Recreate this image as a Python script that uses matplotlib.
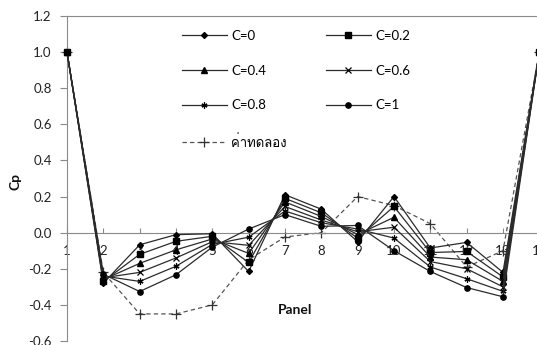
import matplotlib
matplotlib.use("Agg")
import matplotlib.pyplot as plt
from matplotlib import font_manager as fm, ft2font

# ---------------- data ----------------
panels = list(range(1, 15))
c0  = [1.0, -0.28, -0.067, -0.011, -0.006, -0.215, 0.21, 0.13, -0.05, 0.20, -0.085, -0.054, -0.22, 1.0]
c02 = [1.0, -0.27, -0.12, -0.048, -0.02, -0.165, 0.19, 0.11, -0.03, 0.145, -0.11, -0.104, -0.245, 1.0]
c04 = [1.0, -0.26, -0.17, -0.095, -0.035, -0.115, 0.17, 0.09, -0.01, 0.085, -0.135, -0.15, -0.27, 1.0]
c06 = [1.0, -0.25, -0.22, -0.14, -0.05, -0.07, 0.145, 0.07, 0.005, 0.03, -0.16, -0.20, -0.30, 1.0]
c08 = [1.0, -0.24, -0.27, -0.186, -0.065, -0.025, 0.12, 0.055, 0.02, -0.03, -0.19, -0.255, -0.325, 1.0]
c1  = [1.0, -0.23, -0.326, -0.233, -0.08, 0.02, 0.10, 0.035, 0.04, -0.10, -0.215, -0.304, -0.355, 1.0]
exp = [1.0, -0.22, -0.45, -0.45, -0.40, -0.15, -0.024, 0.0, 0.20, 0.15, 0.05, -0.19, -0.10, 1.0]
series_labels = ["C=0", "C=0.2", "C=0.4", "C=0.6", "C=0.8", "C=1"]
exp_label = "ค่าทดลอง"
yticks = [-0.6, -0.4, -0.2, 0.0, 0.2, 0.4, 0.6, 0.8, 1.0, 1.2]

# ---------------- fonts ----------------
thai_font = None
for f in fm.fontManager.ttflist:
    try:
        cm = ft2font.FT2Font(f.fname).get_charmap()
        if 0x0E04 in cm and 0x0E48 in cm and 0x0E17 in cm:
            thai_font = f.name
            break
    except Exception:
        pass
fams = ["Lato"]
if thai_font:
    fams.append(thai_font)
fams.append("DejaVu Sans")
plt.rcParams["font.family"] = fams

W, H = 537, 345
fig = plt.figure(figsize=(W / 100, H / 100), dpi=100)
left = 67 / W
right = 539.3 / W
bottom = (H - 341) / H
top = (H - 16) / H
ax = fig.add_axes([left, bottom, right - left, top - bottom])

lc = "#2b2b2b"
markers = [
    dict(marker="D", ms=3.0),
    dict(marker="s", ms=4.0),
    dict(marker="^", ms=4.0),
    dict(marker="x", ms=4.0, mew=0.9),
    dict(marker=(6, 2, 0), ms=4.3, mew=0.9),
    dict(marker="o", ms=3.8),
]
handles = []
for vals, lab, mk in zip([c0, c02, c04, c06, c08, c1], series_labels, markers):
    h, = ax.plot(panels, vals, color=lc, lw=0.9, mfc="black", mec="black",
                 label=lab, clip_on=False, zorder=3, **mk)
    handles.append(h)
he, = ax.plot(panels, exp, color="#555555", lw=0.9, ls=(0, (3.5, 2.5)),
              marker="+", ms=7, mew=0.9, mec="#333333", label=exp_label,
              clip_on=False, zorder=2)

ax.set_xlim(1, 14)
ax.set_ylim(-0.6, 1.2)
ax.set_yticks(yticks)
ax.set_yticklabels([f"{v:.1f}" for v in yticks])
ax.set_xticks(panels)
ax.set_xticklabels([str(p) for p in panels])

gray = "#8a8a8a"
for s in ["left", "top", "right", "bottom"]:
    ax.spines[s].set_color(gray)
    ax.spines[s].set_linewidth(0.8)
ax.spines["bottom"].set_position(("data", 0))
ax.tick_params(axis="y", direction="out", length=5, width=0.8, color=gray,
               pad=6, labelsize=9.5, labelcolor="#222222")
ax.tick_params(axis="x", direction="in", length=3.5, width=0.8, color=gray,
               pad=9, labelsize=9.5, labelcolor="#222222")

fig.text(16 / W, (H - 182) / H, "Cp", rotation=90, ha="center", va="center",
         fontsize=10, fontweight="bold", color="#111111")
fig.text(295 / W, (H - 310) / H, "Panel", ha="center", va="center",
         fontsize=10, fontweight="bold", color="#111111")

order = [handles[0], handles[2], handles[4], he, handles[1], handles[3], handles[5]]
leg = ax.legend(handles=order, labels=[h.get_label() for h in order], ncol=2,
                loc="upper left", bbox_to_anchor=(182 / W, (H - 30) / H),
                bbox_transform=fig.transFigure, frameon=False, fontsize=9.5,
                handlelength=3.4, handletextpad=0.35, labelspacing=1.72,
                columnspacing=2.95, borderpad=0, borderaxespad=0)

fig.savefig("out.png", dpi=100)
